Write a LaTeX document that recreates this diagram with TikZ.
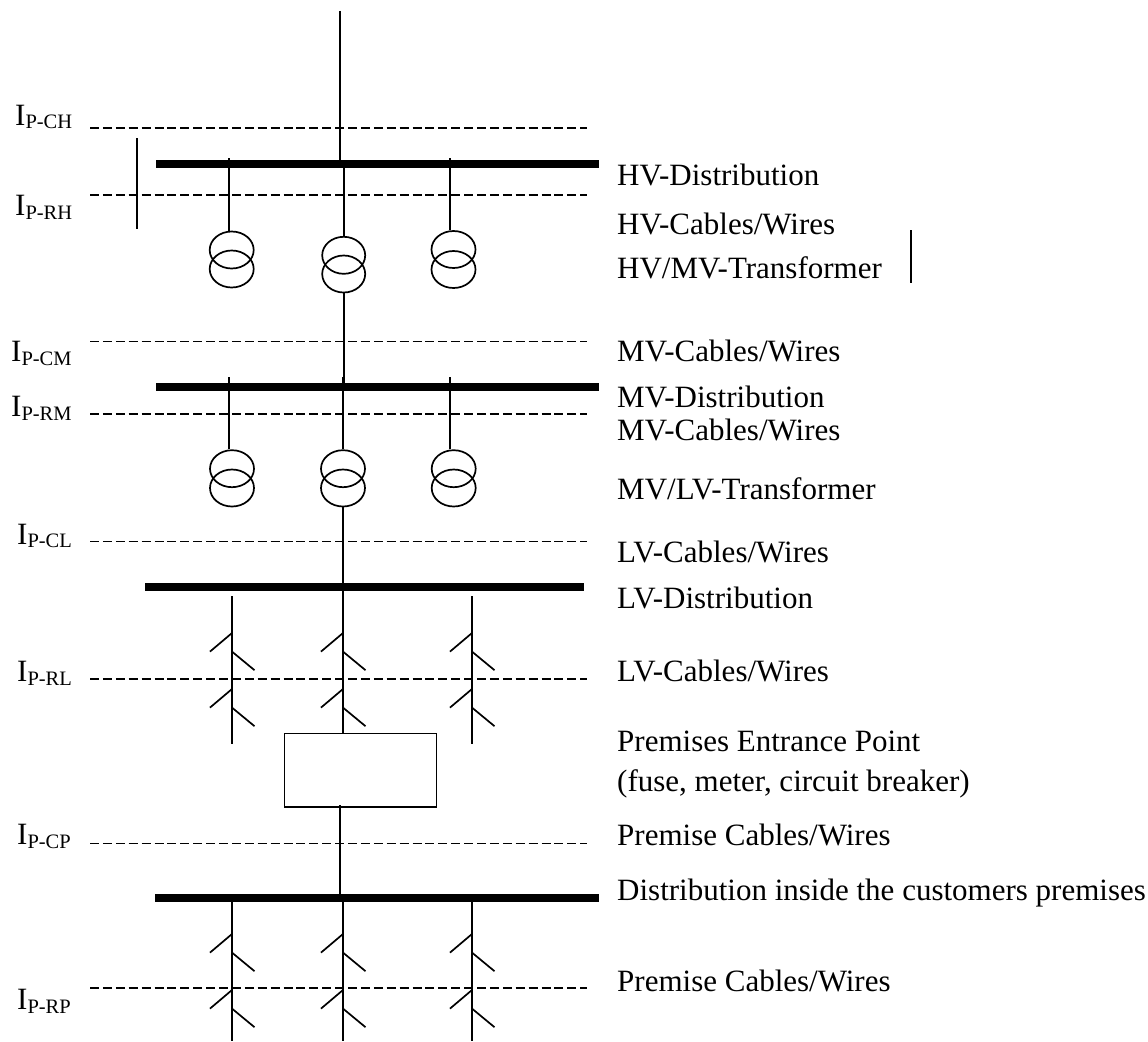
\documentclass[tikz,border=0pt]{standalone}
\usepackage{fontspec}
\setmainfont{Liberation Serif}
\usetikzlibrary{shapes.geometric}
\newcommand{\mainsize}{\fontsize{31}{34}\selectfont}
\newcommand{\subsize}{\fontsize{20.5}{22}\selectfont}
\newcommand{\curr}[1]{\mainsize I\raisebox{-3.7pt}{\subsize P-#1}}
\tikzset{
  x=1pt,y=-1pt,
  wire/.style={line width=2pt,black},
  probe/.style={line width=1.9pt,black,dash pattern=on 9pt off 3.9pt},
  probethin/.style={line width=1.4pt,black,dash pattern=on 9pt off 3.9pt},
  bus/.style={rectangle,fill=black,inner sep=0pt,minimum height=8pt},
  coil/.style={ellipse,draw=black,line width=1.7pt,inner sep=0pt,minimum width=44pt,minimum height=37pt},
  lab/.style={anchor=base west,inner sep=0pt,font=\mainsize},
  curlab/.style={anchor=base west,inner sep=0pt},
  cabletick/.style={line width=1.7pt,black},
  boxnode/.style={rectangle,draw=black,line width=1.8pt,inner sep=0pt,minimum width=152pt,minimum height=73.5pt}
}
\begin{document}
\begin{tikzpicture}
\useasboundingbox (0,0) rectangle (1148,1041);
% bus bars
\node[bus,minimum width=443pt] (busHV) at (377.5,164) {};
\node[bus,minimum width=443pt] (busMV) at (377.5,386.7) {};
\node[bus,minimum width=439pt] (busLV) at (364.5,587) {};
\node[bus,minimum width=444pt] (busP) at (377,897.7) {};
% transformers
\node[coil] (ha) at (231.7,250) {};
\node[coil] (hb) at (231.7,269) {};
\node[coil,minimum width=43pt] (ma) at (343.7,255.3) {};
\node[coil,minimum width=43pt] (mb) at (343.7,274) {};
\node[coil] (ra) at (453.5,249.5) {};
\node[coil] (rb) at (453.5,269.5) {};
\node[coil] (la1) at (232,468.7) {};
\node[coil] (la2) at (232,488) {};
\node[coil] (lb1) at (343,468.7) {};
\node[coil] (lb2) at (343,488) {};
\node[coil] (lc1) at (453.7,468.7) {};
\node[coil] (lc2) at (453.7,488) {};
% premises box
\node[boxnode] (pbox) at (360.5,770.2) {};
% free ends
\coordinate (top) at (339.5,11);
\coordinate (s1) at (229,158);
\coordinate (s2) at (343.5,160);
\coordinate (s3) at (450,158);
\coordinate (m1) at (229,377);
\coordinate (m2) at (343,377);
\coordinate (m3) at (450.3,377);
\coordinate (t1) at (137,138);
\coordinate (t2) at (137,229);
\coordinate (t3) at (911,230);
\coordinate (t4) at (911,283);
\coordinate (l1a) at (232,596);
\coordinate (l1b) at (232,744);
\coordinate (l3a) at (472,596);
\coordinate (l3b) at (472,744);
\coordinate (p1a) at (232,898);
\coordinate (p1b) at (232,1041);
\coordinate (p2a) at (343,898);
\coordinate (p2b) at (343,1041);
\coordinate (p3a) at (472,898);
\coordinate (p3b) at (472,1041);
% wires
\draw[wire] (top) -- (top |- busHV.north);
\draw[wire] (s1) -- (s1 |- ha.north);
\draw[wire] (s2) -- (s2 |- ma.north);
\draw[wire] (s3) -- (s3 |- ra.north);
\draw[wire] (mb.south) -- (mb.south |- busMV.south);
\draw[wire] (m1) -- (m1 |- la1.north);
\draw[wire] (m2) -- (m2 |- lb1.north);
\draw[wire] (m3) -- (m3 |- lc1.north);
\draw[wire] (lb2.south) -- (lb2.south |- pbox.north);
\draw[wire] (l1a) -- (l1b);
\draw[wire] (l3a) -- (l3b);
\draw[wire] (339.7,805) coordinate (pb) -- (pb |- busP.north);
\draw[wire] (p1a) -- (p1b);
\draw[wire] (p2a) -- (p2b);
\draw[wire] (p3a) -- (p3b);
\draw[wire] (t1) -- (t2);
\draw[wire] (t3) -- (t4);
% cable symbols
\foreach \cx in {232,343,472}{
  \foreach \cy in {633,689,934,990}{
    \draw[cabletick] (\cx,\cy) -- ++(-22,18.6);
    \draw[cabletick] (\cx,\cy+18.6) -- ++(22.5,18.6);
  }
}
% measurement planes
\draw[probe] (90,128) coordinate (aCH) -- (587,128);
\draw[probe] (90,195.3) coordinate (aRH) -- (587,195.3);
\draw[probethin] (90,341.3) coordinate (aCM) -- (587,341.3);
\draw[probe] (90,414.3) coordinate (aRM) -- (587,414.3);
\draw[probethin] (90,541.3) coordinate (aCL) -- (587,541.3);
\draw[probe] (90,678.7) coordinate (aRL) -- (587,678.7);
\draw[probe] (90,843.5) coordinate (aCP) -- (587,843.5);
\draw[probe] (90,988) coordinate (aRP) -- (587,988);
% current labels
\node[curlab] (iCH) at (15,125) {\curr{CH}};
\node[curlab] (iRH) at (15,215.5) {\curr{RH}};
\node[curlab] (iCM) at (11,361.5) {\curr{CM}};
\node[curlab] (iRM) at (11,416.5) {\curr{RM}};
\node[curlab] (iCL) at (17,544) {\curr{CL}};
\node[curlab] (iRL) at (17,681.5) {\curr{RL}};
\node[curlab] (iCP) at (17,844.5) {\curr{CP}};
\node[curlab] (iRP) at (17,1009.5) {\curr{RP}};
% right labels
\node[lab] (r1) at (617,185) {HV-Distribution};
\node[lab] (r2) at (617,234.3) {HV-Cables/Wires};
\node[lab] (r3) at (617,278.7) {HV/MV-Transformer};
\node[lab] (r4) at (617,361.3) {MV-Cables/Wires};
\node[lab] (r5) at (617,407) {MV-Distribution};
\node[lab] (r6) at (617,440) {MV-Cables/Wires};
\node[lab] (r7) at (617,499.5) {MV/LV-Transformer};
\node[lab] (r8) at (617,562.5) {LV-Cables/Wires};
\node[lab] (r9) at (617,608) {LV-Distribution};
\node[lab] (r10) at (617,681) {LV-Cables/Wires};
\node[lab] (r11) at (617,751.7) {Premises Entrance Point};
\node[lab] (r12) at (617,791) {(fuse, meter, circuit breaker)};
\node[lab] (r13) at (617,845.5) {Premise Cables/Wires};
\node[lab] (r14) at (617,900.5) {Distribution inside the customers premises};
\node[lab] (r15) at (617,991) {Premise Cables/Wires};
\end{tikzpicture}
\end{document}
